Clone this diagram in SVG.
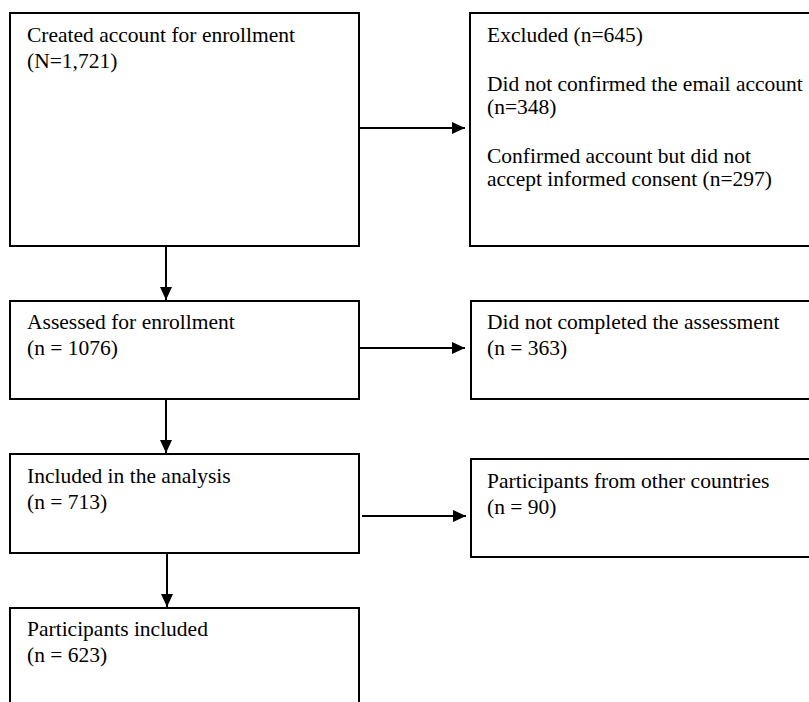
<svg xmlns="http://www.w3.org/2000/svg" width="809" height="702" viewBox="0 0 809 702">
  <style>
    .box { fill: #ffffff; stroke: #000000; stroke-width: 2; }
    .t { font-family: "Liberation Serif", "Times New Roman", serif; font-size: 21.5px; fill: #000000; }
    .conn { stroke: #000000; stroke-width: 2; fill: none; marker-end: url(#ah); }
  </style>
  <defs>
    <marker id="ah" markerUnits="userSpaceOnUse" markerWidth="13" markerHeight="12" refX="13" refY="6" orient="auto">
      <path d="M0,0 L13,6 L0,12 z" fill="#000000"/>
    </marker>
  </defs>
  <rect width="809" height="702" fill="#ffffff"/>

  <g id="created">
    <rect class="box" x="10" y="13" width="349" height="233"/>
    <text class="t" x="27" y="42">Created account for enrollment</text>
    <text class="t" x="27" y="68">(N=1,721)</text>
  </g>

  <g id="excluded">
    <rect class="box" x="470" y="13" width="360" height="233"/>
    <text class="t" x="487" y="42">Excluded (n=645)</text>
    <text class="t" x="487" y="91">Did not confirmed the email account</text>
    <text class="t" x="487" y="114">(n=348)</text>
    <text class="t" x="487" y="163">Confirmed account but did not</text>
    <text class="t" x="487" y="186">accept informed consent (n=297)</text>
  </g>

  <g id="assessed">
    <rect class="box" x="10" y="301" width="349" height="98"/>
    <text class="t" x="27" y="329">Assessed for enrollment</text>
    <text class="t" x="27" y="355">(n = 1076)</text>
  </g>

  <g id="not-completed">
    <rect class="box" x="471" y="301" width="360" height="98"/>
    <text class="t" x="487" y="329">Did not completed the assessment</text>
    <text class="t" x="487" y="355">(n = 363)</text>
  </g>

  <g id="included">
    <rect class="box" x="10" y="454" width="349" height="99"/>
    <text class="t" x="27" y="483">Included in the analysis</text>
    <text class="t" x="27" y="509">(n = 713)</text>
  </g>

  <g id="other-countries">
    <rect class="box" x="471" y="459" width="360" height="98"/>
    <text class="t" x="487" y="488">Participants from other countries</text>
    <text class="t" x="487" y="514">(n = 90)</text>
  </g>

  <g id="participants-included">
    <rect class="box" x="10" y="608" width="349" height="120"/>
    <text class="t" x="27" y="636">Participants included</text>
    <text class="t" x="27" y="662">(n = 623)</text>
  </g>

  <g id="connectors">
    <line class="conn" x1="360" y1="128" x2="465" y2="128"/>
    <line class="conn" x1="166" y1="247" x2="166" y2="300"/>
    <line class="conn" x1="360" y1="348" x2="465" y2="348"/>
    <line class="conn" x1="166" y1="400" x2="166" y2="453"/>
    <line class="conn" x1="362" y1="516" x2="466" y2="516"/>
    <line class="conn" x1="167" y1="554" x2="167" y2="607"/>
  </g>
</svg>
